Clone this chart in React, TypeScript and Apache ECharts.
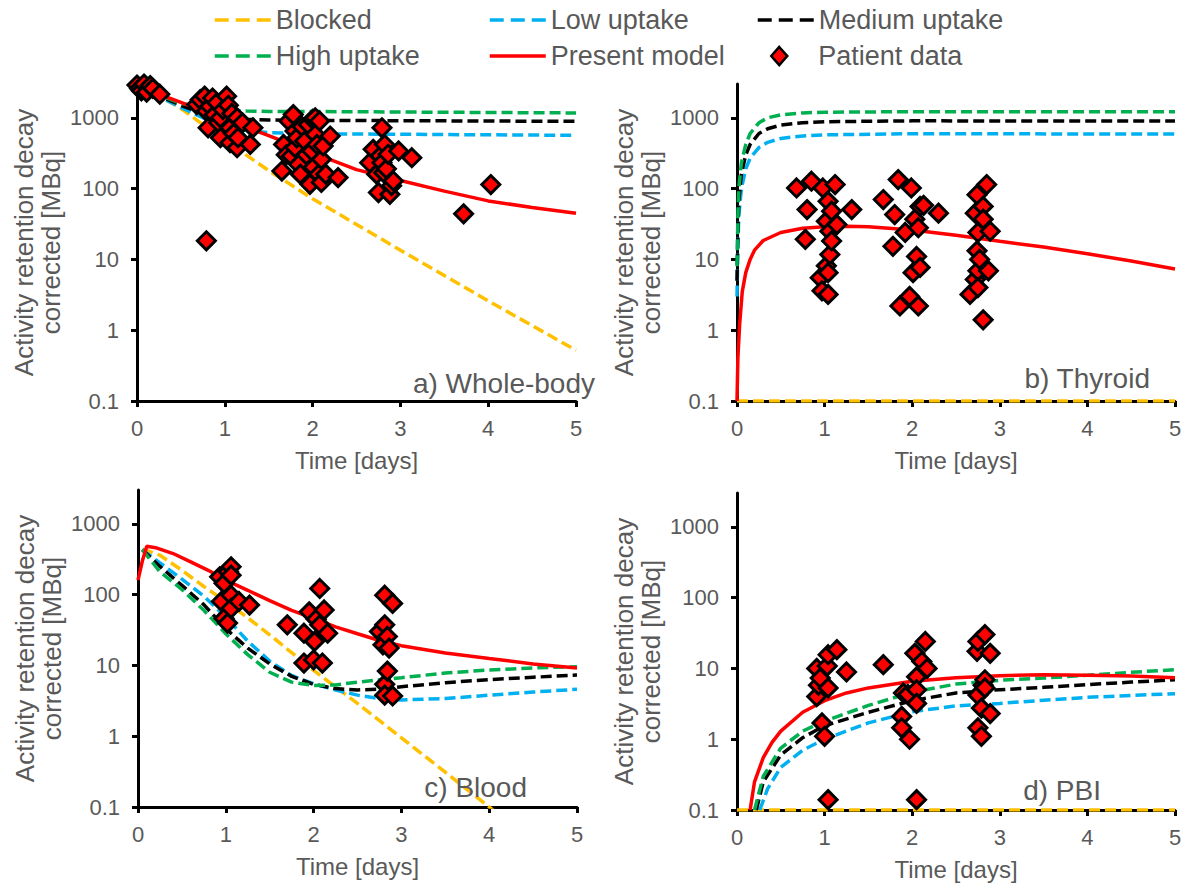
import React, { useEffect, useRef } from 'react';
import * as echarts from 'echarts';

// ---------- data ----------
const xTicks = [0, 1, 2, 3, 4, 5];
const yTicks = [0.1, 1, 10, 100, 1000];
const panelLabels = ['a) Whole-body', 'b) Thyroid', 'c) Blood', 'd) PBI'];
const seriesNames = ['Blocked', 'Low uptake', 'Medium uptake', 'High uptake', 'Present model', 'Patient data'];

// a) Whole-body
const wbBlocked = [[0, 2700], [0.25, 2050], [0.5, 1350], [1, 480], [1.5, 180], [2, 72], [3, 13.5], [4, 2.6], [5, 0.52]];
const wbLow = [[0, 2700], [0.25, 2000], [0.5, 1400], [0.75, 1000], [1, 780], [1.25, 660], [1.5, 615], [2, 595], [3, 585], [5, 565]];
const wbMedium = [[0, 2700], [0.25, 2050], [0.5, 1500], [0.75, 1150], [1, 1000], [1.25, 950], [1.5, 930], [2, 920], [5, 890]];
const wbHigh = [[0, 2700], [0.25, 2100], [0.5, 1600], [0.75, 1400], [1, 1290], [1.25, 1245], [1.5, 1230], [2, 1225], [5, 1170]];
const wbPresent = [[0, 2700], [0.25, 2150], [0.5, 1650], [0.75, 1250], [1, 960], [1.5, 560], [2, 320], [2.5, 185], [3, 130], [3.5, 92], [4, 67], [4.5, 54], [5, 45]];
const wbPatient = [
  [0.0, 2900], [0.03, 2600], [0.05, 2400], [0.08, 3000], [0.11, 2300], [0.15, 2850], [0.18, 2600], [0.26, 2150],
  [0.68, 1540], [0.72, 1800], [0.77, 2020], [0.79, 1240], [0.81, 723], [0.83, 1450], [0.86, 1900], [0.88, 1100],
  [0.91, 1630], [0.93, 850], [0.95, 1000], [0.95, 523], [0.98, 1300], [1.02, 2020], [1.04, 1500], [1.06, 723],
  [1.06, 444], [1.08, 1150], [1.1, 600], [1.14, 1000], [1.14, 378], [1.15, 523], [1.2, 850], [1.29, 420], [1.32, 723],
  [0.79, 18.3],
  [1.65, 177], [1.67, 420], [1.7, 300], [1.73, 900], [1.76, 289], [1.78, 1110], [1.8, 650], [1.8, 380], [1.82, 520],
  [1.84, 220], [1.86, 160], [1.88, 750], [1.91, 470], [1.93, 300], [1.95, 800], [1.97, 115], [1.99, 340], [2.0, 950],
  [2.01, 200], [2.03, 1000], [2.03, 582], [2.05, 420], [2.07, 160], [2.08, 900], [2.1, 259], [2.1, 122], [2.12, 400],
  [2.15, 160], [2.2, 552], [2.29, 143],
  [2.65, 232], [2.69, 358], [2.73, 160], [2.75, 88], [2.77, 290], [2.79, 723], [2.79, 232], [2.81, 168], [2.82, 420],
  [2.84, 190], [2.86, 305], [2.88, 83], [2.9, 110], [2.92, 128], [2.98, 340], [3.13, 273],
  [3.72, 44], [4.03, 114]
];

// b) Thyroid
const thBlocked = [[0, 0.1], [5, 0.1]];
const thLow = [[0, 3], [0.01, 15], [0.02, 40], [0.05, 100], [0.1, 190], [0.15, 270], [0.25, 380], [0.35, 450], [0.5, 510], [0.75, 555], [1, 575], [2, 595], [5, 590]];
const thMedium = [[0, 5], [0.01, 25], [0.02, 65], [0.05, 160], [0.1, 300], [0.15, 420], [0.25, 600], [0.35, 700], [0.5, 790], [0.75, 850], [1, 880], [2, 905], [5, 900]];
const thHigh = [[0, 8], [0.01, 40], [0.02, 100], [0.05, 230], [0.1, 420], [0.15, 600], [0.25, 850], [0.35, 1000], [0.5, 1100], [0.75, 1170], [1, 1200], [2, 1220], [5, 1220]];
const thPresent = [[0, 0.1], [0.01, 0.4], [0.03, 1.2], [0.06, 3.5], [0.1, 6.5], [0.15, 10], [0.2, 13.5], [0.3, 18.5], [0.5, 24], [0.75, 27.5], [1, 29], [1.25, 29.5], [1.5, 29], [2, 26], [2.5, 22], [3, 18], [3.5, 15], [4, 12], [4.5, 9.5], [5, 7.3]];
const thPatient = [
  [0.68, 102], [0.78, 19.2], [0.8, 50.5], [0.85, 127], [0.95, 5.5], [0.97, 3.6], [0.98, 102], [1.02, 34.6], [1.02, 8.1],
  [1.04, 66], [1.04, 6.5], [1.04, 3.2], [1.06, 25], [1.06, 11.7], [1.08, 48], [1.08, 18.2], [1.12, 114], [1.14, 31], [1.31, 50.5],
  [1.67, 70], [1.78, 15.3], [1.8, 43], [1.84, 134], [1.86, 2.2], [1.92, 24], [1.97, 3.0], [1.99, 102], [2.01, 6.5], [2.03, 37],
  [2.05, 11], [2.07, 28], [2.07, 2.2], [2.09, 56], [2.09, 7.7], [2.13, 58], [2.3, 45],
  [2.66, 3.2], [2.72, 45], [2.72, 5.2], [2.74, 82], [2.74, 13.2], [2.75, 24], [2.75, 6.9], [2.75, 4.0], [2.77, 10],
  [2.81, 56], [2.81, 37], [2.81, 1.4], [2.85, 114], [2.87, 6.9], [2.89, 25]
];

// c) Blood
const blBlocked = [[0.05, 440], [0.25, 360], [0.5, 220], [0.75, 130], [1, 80], [1.25, 47], [1.5, 27], [2, 8.5], [2.5, 2.9], [3, 0.95], [3.5, 0.31], [4, 0.1], [4.5, 0.032]];
const blLow = [[0.05, 430], [0.25, 280], [0.5, 165], [0.75, 95], [1, 48], [1.25, 22], [1.5, 11.5], [1.75, 7.2], [2, 5.5], [2.25, 4.5], [2.5, 3.8], [2.75, 3.4], [3, 3.25], [3.5, 3.4], [4, 3.8], [4.5, 4.2], [5, 4.6]];
const blMedium = [[0.05, 430], [0.25, 250], [0.5, 135], [0.75, 72], [1, 33], [1.25, 17.5], [1.5, 10.5], [1.75, 7], [2, 5.4], [2.25, 4.7], [2.5, 4.5], [2.75, 4.6], [3, 5.0], [3.5, 5.7], [4, 6.3], [4.5, 6.8], [5, 7.3]];
const blHigh = [[0.05, 430], [0.25, 210], [0.5, 118], [0.75, 60], [1, 28], [1.25, 14.2], [1.5, 8], [1.75, 5.8], [2, 5.2], [2.25, 5.3], [2.5, 5.8], [3, 6.7], [3.5, 7.8], [4, 8.6], [4.5, 9.2], [5, 9.6]];
const blPresent = [[0, 160], [0.05, 300], [0.1, 480], [0.2, 460], [0.4, 380], [0.6, 290], [0.8, 220], [1, 160], [1.25, 115], [1.5, 82], [1.75, 60], [2, 46], [2.25, 35], [2.5, 28], [2.75, 22.5], [3, 19], [3.5, 15], [4, 12.5], [4.5, 10.5], [5, 9.2]];
const blPatient = [
  [0.93, 178], [0.95, 80], [0.98, 144], [0.98, 46], [1.02, 39.6], [1.03, 210], [1.06, 247], [1.06, 188], [1.06, 98], [1.06, 64],
  [1.15, 80], [1.27, 71],
  [1.7, 37.4], [1.89, 28.5], [1.89, 10.8], [1.95, 57], [2.0, 12], [2.01, 21.8], [2.03, 45], [2.07, 122], [2.07, 37.4],
  [2.1, 10.8], [2.12, 60.6], [2.16, 28.5],
  [2.75, 30], [2.79, 19.5], [2.81, 98], [2.81, 37.4], [2.81, 5.4], [2.81, 3.8], [2.84, 25.6], [2.84, 8.3], [2.86, 17.6],
  [2.9, 75], [2.9, 3.7]
];

// d) PBI
const pbBlocked = [[0, 0.1], [5, 0.1]];
const pbLow = [[0.26, 0.1], [0.35, 0.2], [0.5, 0.4], [0.75, 0.7], [1, 1.0], [1.5, 1.7], [2, 2.45], [2.5, 2.95], [3, 3.2], [3.5, 3.55], [4, 3.9], [4.5, 4.15], [5, 4.4]];
const pbMedium = [[0.22, 0.1], [0.3, 0.25], [0.5, 0.6], [0.75, 1.05], [1, 1.55], [1.5, 2.4], [2, 3.5], [2.5, 4.5], [3, 5.0], [3.5, 5.4], [4, 5.9], [4.5, 6.4], [5, 6.9]];
const pbHigh = [[0.2, 0.1], [0.3, 0.3], [0.5, 0.75], [0.75, 1.3], [1, 1.8], [1.5, 3.0], [2, 4.6], [2.5, 6.0], [3, 6.8], [3.5, 7.3], [4, 8.0], [4.5, 8.8], [5, 9.6]];
const pbPresent = [[0.15, 0.1], [0.2, 0.25], [0.3, 0.55], [0.4, 0.9], [0.5, 1.3], [0.75, 2.4], [1, 3.5], [1.25, 4.5], [1.5, 5.3], [2, 6.6], [2.5, 7.4], [3, 7.9], [3.5, 8.1], [4, 8.0], [4.5, 7.8], [5, 7.4]];
const pbPatient = [
  [0.91, 10], [0.91, 4.0], [0.93, 5.8], [0.95, 7.3], [0.97, 1.7], [1.0, 1.1], [1.03, 10.8], [1.04, 15.6], [1.04, 5.3],
  [1.04, 0.14], [1.14, 18.4], [1.25, 8.9],
  [1.67, 11.3], [1.88, 2.1], [1.88, 1.45], [1.9, 4.5], [1.95, 4.3], [1.97, 1.0], [2.03, 16.3], [2.05, 7.6], [2.05, 5.0],
  [2.05, 3.2], [2.05, 0.14], [2.11, 12.5], [2.15, 24], [2.17, 10],
  [2.74, 17.4], [2.75, 24], [2.75, 4.2], [2.75, 1.45], [2.79, 2.75], [2.79, 1.1], [2.81, 5.8], [2.83, 30], [2.83, 6.9],
  [2.83, 5.3], [2.89, 16.3], [2.89, 2.3]
];

const panels = [
  [wbBlocked, wbLow, wbMedium, wbHigh, wbPresent, wbPatient],
  [thBlocked, thLow, thMedium, thHigh, thPresent, thPatient],
  [blBlocked, blLow, blMedium, blHigh, blPresent, blPatient],
  [pbBlocked, pbLow, pbMedium, pbHigh, pbPresent, pbPatient],
];

// ---------- styles / layout ----------
const FONT = '"Liberation Sans", Arial, sans-serif';
const TEXT = '#595959';
const colors = ['#FFC000', '#00B0F0', '#000000', '#00B050', '#FF0000'];
const grids = [
  { left: 137, top: 84, width: 439, height: 317 },
  { left: 737, top: 84, width: 438, height: 317 },
  { left: 138, top: 490, width: 439, height: 317 },
  { left: 737, top: 493, width: 438, height: 317 },
];
const labelPos = [[595, 383], [1150, 378], [527, 787], [1101, 790]];
const legendPos = [[213, 5], [488, 5], [756, 5], [213, 41], [488, 41], [770, 41]];

function yFmt(v: number) {
  const l = Math.log10(v);
  const e = Math.round(l);
  if (Math.abs(l - e) > 0.01) return '';
  return e < 0 ? '0.1' : String(Math.pow(10, e));
}

function buildOption() {
  const series: any[] = [];
  panels.forEach((p, gi) => {
    for (let k = 0; k < 5; k++) {
      series.push({
        name: seriesNames[k],
        type: 'line',
        xAxisIndex: gi,
        yAxisIndex: gi,
        data: p[k],
        showSymbol: false,
        symbol: 'none',
        smooth: false,
        lineStyle: { color: colors[k], width: 3.5, type: k === 4 ? 'solid' : [11, 5] },
        itemStyle: { color: colors[k] },
        z: 2 + k * 0.1,
      });
    }
    series.push({
      name: seriesNames[5],
      type: 'scatter',
      xAxisIndex: gi,
      yAxisIndex: gi,
      data: p[5],
      symbol: 'diamond',
      symbolSize: 18,
      itemStyle: { color: '#FF0000', borderColor: '#000000', borderWidth: 3, opacity: 1 },
      z: 4,
    });
  });

  const legends = seriesNames.map((n, i) => ({
    left: legendPos[i][0],
    top: legendPos[i][1],
    padding: 0,
    orient: 'horizontal',
    selectedMode: false,
    itemWidth: i === 5 ? 16 : 56,
    itemHeight: i === 5 ? 18 : 14,
    symbolKeepAspect: true,
    data: [n],
    textStyle: {
      fontSize: 27, color: TEXT, fontFamily: FONT, lineHeight: 30,
      padding: i === 5 ? [0, 0, 0, 26] : 0,
    },
    itemStyle: i === 5 ? { borderWidth: 2.5, borderColor: '#000' } : { opacity: 0 },
    lineStyle: i < 4 ? { type: [14, 7], width: 3.5 } : { width: 3.5 },
  }));

  return {
    animation: false,
    backgroundColor: '#ffffff',
    legend: legends,
    grid: grids.map((g) => ({ ...g, containLabel: false, outerBoundsMode: 'none' })),
    xAxis: grids.map((_, gi) => ({
      type: 'value',
      gridIndex: gi,
      min: xTicks[0],
      max: xTicks[xTicks.length - 1],
      interval: 1,
      name: 'Time [days]',
      nameLocation: 'middle',
      nameGap: 47,
      nameTextStyle: { fontSize: 24, color: TEXT, fontFamily: FONT, lineHeight: 24 },
      axisLine: { show: true, onZero: false, lineStyle: { color: '#000', width: 3 } },
      axisTick: { show: true, length: 6, lineStyle: { color: '#000', width: 3 } },
      axisLabel: { fontSize: 22, color: TEXT, fontFamily: FONT, margin: 16 },
      splitLine: { show: false },
    })),
    yAxis: grids.map((_, gi) => ({
      type: 'log',
      logBase: 10,
      gridIndex: gi,
      min: 0.1,
      max: 3000,
      name: 'Activity retention decay\ncorrected [MBq]',
      nameLocation: 'middle',
      nameGap: 73,
      nameTextStyle: { fontSize: 26, color: TEXT, fontFamily: FONT, lineHeight: 27 },
      axisLine: { show: true, onZero: false, lineStyle: { color: '#000', width: 3 } },
      axisTick: { show: true, length: 6, lineStyle: { color: '#000', width: 3 }, customValues: yTicks },
      axisLabel: {
        fontSize: 22, color: TEXT, fontFamily: FONT, margin: 18,
        formatter: (v: number) => yFmt(v), customValues: yTicks,
      },
      splitLine: { show: false },
      minorTick: { show: false },
    })),
    graphic: panelLabels.map((t, i) => ({
      type: 'text',
      x: labelPos[i][0],
      y: labelPos[i][1],
      z: 10,
      style: {
        text: t, fontSize: 28, fontFamily: FONT, fill: TEXT,
        align: 'right', verticalAlign: 'middle', textAlign: 'right', textVerticalAlign: 'middle',
      },
    })),
    series,
  };
}

export default function App() {
  const ref = useRef<HTMLDivElement>(null);
  useEffect(() => {
    document.body.style.margin = '0';
    if (!ref.current) return;
    const chart = echarts.init(ref.current, undefined, { renderer: 'svg' });
    chart.setOption(buildOption() as any);
    return () => chart.dispose();
  }, []);
  return <div ref={ref} style={{ width: 1188, height: 883, background: '#fff' }} />;
}
